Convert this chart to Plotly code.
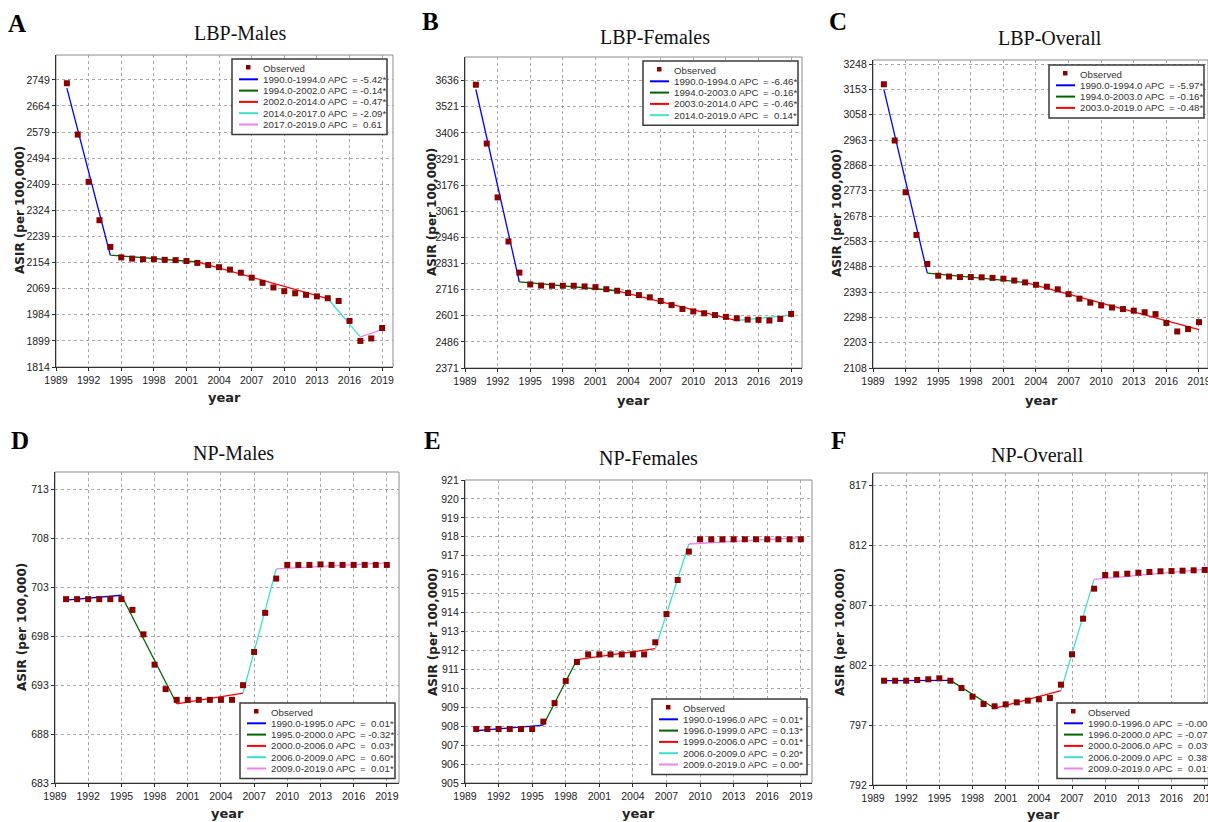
import plotly.graph_objects as go

W, H = 1208, 822

# ---------------- data ----------------
years = list(range(1990, 2020))
x_ticks = list(range(1989, 2020, 3))
seg_colors = ["#0000ff", "#006400", "#ff0000", "#40e0d0", "#ee82ee"]

# A: LBP-Males
lbp_m_obs = [2738, 2571, 2417, 2292, 2205, 2171, 2167, 2165, 2165, 2163,
             2162, 2159, 2153, 2146, 2139, 2131, 2121, 2105, 2088, 2073,
             2061, 2054, 2049, 2044, 2038, 2029, 1964, 1899, 1907, 1941]
lbp_m_jp = [1990, 1994, 2002, 2014, 2017, 2019]
lbp_m_fit = [2722, 2178, 2156, 2037, 1912, 1936]
lbp_m_seg = ["1990.0-1994.0 APC", "1994.0-2002.0 APC", "2002.0-2014.0 APC",
             "2014.0-2017.0 APC", "2017.0-2019.0 APC"]
lbp_m_apc = ["= -5.42*", "= -0.14*", "= -0.47*", "= -2.09*", "=  0.61"]
lbp_m_yticks = [1814, 1899, 1984, 2069, 2154, 2239, 2324, 2409, 2494, 2579, 2664, 2749]

# B: LBP-Females
lbp_f_obs = [3618, 3359, 3122, 2928, 2791, 2739, 2734, 2733, 2733, 2733,
             2730, 2727, 2718, 2711, 2701, 2692, 2682, 2666, 2648, 2631,
             2620, 2612, 2604, 2596, 2590, 2584, 2583, 2580, 2587, 2609]
lbp_f_jp = [1990, 1994, 2003, 2014, 2019]
lbp_f_fit = [3597, 2750, 2711, 2580, 2604]
lbp_f_seg = ["1990.0-1994.0 APC", "1994.0-2003.0 APC", "2003.0-2014.0 APC",
             "2014.0-2019.0 APC"]
lbp_f_apc = ["= -6.46*", "= -0.16*", "= -0.46*", "=  0.14*"]
lbp_f_yticks = [2371, 2486, 2601, 2716, 2831, 2946, 3061, 3176, 3291, 3406, 3521, 3636]

# C: LBP-Overall
lbp_o_obs = [3172, 2961, 2767, 2607, 2498, 2454, 2451, 2449, 2449, 2448,
             2446, 2443, 2436, 2429, 2420, 2413, 2403, 2385, 2368, 2353,
             2343, 2335, 2329, 2323, 2317, 2310, 2277, 2245, 2254, 2280]
lbp_o_jp = [1990, 1994, 2003, 2019]
lbp_o_fit = [3153, 2464, 2429, 2252]
lbp_o_seg = ["1990.0-1994.0 APC", "1994.0-2003.0 APC", "2003.0-2019.0 APC"]
lbp_o_apc = ["= -5.97*", "= -0.16*", "= -0.48*"]
lbp_o_yticks = [2108, 2203, 2298, 2393, 2488, 2583, 2678, 2773, 2868, 2963, 3058, 3153, 3248]

# D: NP-Males
np_m_obs = [701.8, 701.8, 701.8, 701.8, 701.8, 701.8, 700.7, 698.2, 695.1, 692.6,
            691.5, 691.5, 691.5, 691.5, 691.5, 691.5, 693.0, 696.4, 700.4, 703.9,
            705.3, 705.3, 705.3, 705.35, 705.3, 705.3, 705.3, 705.3, 705.3, 705.3]
np_m_jp = [1990, 1995, 2000, 2006, 2009, 2019]
np_m_fit = [701.7, 702.2, 691.1, 692.2, 704.9, 705.5]
np_m_seg = ["1990.0-1995.0 APC", "1995.0-2000.0 APC", "2000.0-2006.0 APC",
            "2006.0-2009.0 APC", "2009.0-2019.0 APC"]
np_m_apc = ["=  0.01*", "= -0.32*", "=  0.03*", "=  0.60*", "=  0.01*"]
np_m_yticks = [683, 688, 693, 698, 703, 708, 713]

# E: NP-Females
np_f_obs = [907.85, 907.85, 907.85, 907.85, 907.85, 907.85, 908.24, 909.22, 910.39, 911.39,
            911.79, 911.79, 911.79, 911.79, 911.79, 911.79, 912.43, 913.92, 915.72, 917.22,
            917.87, 917.87, 917.87, 917.87, 917.87, 917.87, 917.87, 917.87, 917.87, 917.87]
np_f_jp = [1990, 1996, 1999, 2006, 2009, 2019]
np_f_fit = [907.76, 908.06, 911.51, 912.09, 917.62, 917.96]
np_f_seg = ["1990.0-1996.0 APC", "1996.0-1999.0 APC", "1999.0-2006.0 APC",
            "2006.0-2009.0 APC", "2009.0-2019.0 APC"]
np_f_apc = ["= 0.01*", "= 0.13*", "= 0.01*", "= 0.20*", "= 0.00*"]
np_f_yticks = list(range(905, 922))

# F: NP-Overall
np_o_obs = [800.69, 800.69, 800.69, 800.75, 800.81, 800.89, 800.69, 800.08, 799.36, 798.75,
            798.56, 798.72, 798.89, 799.03, 799.14, 799.25, 800.36, 802.89, 805.86, 808.36,
            809.50, 809.56, 809.61, 809.69, 809.75, 809.81, 809.83, 809.86, 809.89, 809.92]
np_o_jp = [1990, 1996, 2000, 2006, 2009, 2019]
np_o_fit = [800.69, 800.72, 798.39, 799.86, 809.14, 809.97]
np_o_seg = ["1990.0-1996.0 APC", "1996.0-2000.0 APC", "2000.0-2006.0 APC",
            "2006.0-2009.0 APC", "2009.0-2019.0 APC"]
np_o_apc = ["= -0.00", "= -0.07*", "=  0.03*", "=  0.38*", "=  0.01*"]
np_o_yticks = [792, 797, 802, 807, 812, 817]

# ---------------- layout config ----------------
panels = [
    dict(letter="A", title="LBP-Males", obs=lbp_m_obs, jp=lbp_m_jp, fit=lbp_m_fit,
         seg=lbp_m_seg, apc=lbp_m_apc, yticks=lbp_m_yticks,
         xr=[1989, 2020], yr=[1814, 2830], box=(56, 393, 55, 367),
         leg=(232, 59), tpos=(240, 33), lpos=(17, 23), xt=(224, 398), yt=(20, 210)),
    dict(letter="B", title="LBP-Females", obs=lbp_f_obs, jp=lbp_f_jp, fit=lbp_f_fit,
         seg=lbp_f_seg, apc=lbp_f_apc, yticks=lbp_f_yticks,
         xr=[1989, 2020], yr=[2371, 3740], box=(465, 802, 57, 368),
         leg=(643, 61), tpos=(655, 37), lpos=(430, 21), xt=(633, 400), yt=(432, 212)),
    dict(letter="C", title="LBP-Overall", obs=lbp_o_obs, jp=lbp_o_jp, fit=lbp_o_fit,
         seg=lbp_o_seg, apc=lbp_o_apc, yticks=lbp_o_yticks,
         xr=[1989, 2019.83], yr=[2108, 3263], box=(873, 1208, 60, 368),
         leg=(1049, 65), tpos=(1050, 38), lpos=(838, 21), xt=(1041, 400), yt=(837, 213)),
    dict(letter="D", title="NP-Males", obs=np_m_obs, jp=np_m_jp, fit=np_m_fit,
         seg=np_m_seg, apc=np_m_apc, yticks=np_m_yticks,
         xr=[1989, 2020.1], yr=[683, 714.8], box=(55, 399, 472, 783),
         leg=(240, 703), tpos=(233, 453), lpos=(20, 440), xt=(227, 813), yt=(22, 627)),
    dict(letter="E", title="NP-Females", obs=np_f_obs, jp=np_f_jp, fit=np_f_fit,
         seg=np_f_seg, apc=np_f_apc, yticks=np_f_yticks,
         xr=[1989, 2020], yr=[905, 921], box=(465, 812, 480, 783),
         leg=(652, 699), tpos=(648, 458), lpos=(432, 440), xt=(638, 813), yt=(433, 632)),
    dict(letter="F", title="NP-Overall", obs=np_o_obs, jp=np_o_jp, fit=np_o_fit,
         seg=np_o_seg, apc=np_o_apc, yticks=np_o_yticks,
         xr=[1989, 2019.3], yr=[792, 818], box=(873, 1208, 473, 785),
         leg=(1057, 703), tpos=(1037, 455), lpos=(838, 441), xt=(1043, 814), yt=(840, 632)),
]

TICK_FONT = dict(family="Liberation Sans, Arial, sans-serif", size=10.5, color="#222222")
LEG_FONT = dict(family="Liberation Sans, Arial, sans-serif", size=9.7, color="#333333")


def px(v):
    return v / W


def py(v):
    return 1 - v / H


fig = go.Figure()
shapes = []
annotations = []
layout_axes = {}

for i, p in enumerate(panels):
    n = i + 1
    xa = "x" if n == 1 else f"x{n}"
    ya = "y" if n == 1 else f"y{n}"
    x0, x1, y0, y1 = p["box"]

    # fitted segments
    for s in range(len(p["jp"]) - 1):
        fig.add_trace(go.Scatter(
            x=[p["jp"][s], p["jp"][s + 1]], y=[p["fit"][s], p["fit"][s + 1]],
            mode="lines", line=dict(color=seg_colors[s], width=1.3),
            xaxis=xa, yaxis=ya, showlegend=False, hoverinfo="skip"))
    # observed
    fig.add_trace(go.Scatter(
        x=years, y=p["obs"], mode="markers",
        marker=dict(symbol="square", size=6, color="#8b0000", line=dict(width=0)),
        xaxis=xa, yaxis=ya, showlegend=False, name="Observed"))

    axis_common = dict(showgrid=True, gridcolor="#a8a8a8", griddash="dot", gridwidth=1,
                       zeroline=False, showline=True, linecolor="#303030", linewidth=1.2,
                       mirror=False, ticks="outside", ticklen=3, tickcolor="#303030",
                       tickfont=TICK_FONT, automargin=False, ticklabeloverflow="allow")
    layout_axes["xaxis" if n == 1 else f"xaxis{n}"] = dict(
        axis_common, domain=[px(x0), min(px(x1), 1.0)], range=p["xr"],
        tickmode="array", tickvals=x_ticks, ticktext=[str(t) for t in x_ticks],
        anchor=ya)
    layout_axes["yaxis" if n == 1 else f"yaxis{n}"] = dict(
        axis_common, domain=[py(y1), py(y0)], range=p["yr"],
        tickmode="array", tickvals=p["yticks"], ticktext=[str(t) for t in p["yticks"]],
        anchor=xa)

    # light frame on top / right
    shapes.append(dict(type="rect", xref=f"{xa} domain", yref=f"{ya} domain",
                       x0=0, x1=1, y0=0, y1=1, line=dict(color="#8c8c8c", width=1),
                       layer="below"))

    # texts
    annotations.append(dict(text=p["title"], x=px(p["tpos"][0]), y=py(p["tpos"][1]),
                            xref="paper", yref="paper", showarrow=False,
                            xanchor="center", yanchor="middle",
                            font=dict(family="Liberation Serif, Times New Roman, serif",
                                      size=20, color="#111111")))
    annotations.append(dict(text=f"<b>{p['letter']}</b>", x=px(p["lpos"][0]), y=py(p["lpos"][1]),
                            xref="paper", yref="paper", showarrow=False,
                            xanchor="center", yanchor="middle",
                            font=dict(family="Liberation Serif, Times New Roman, serif",
                                      size=25, color="#000000")))
    annotations.append(dict(text="<b>year</b>", x=px(p["xt"][0]), y=py(p["xt"][1]),
                            xref="paper", yref="paper", showarrow=False,
                            xanchor="center", yanchor="middle",
                            font=dict(family="DejaVu Sans, Verdana, sans-serif",
                                      size=13, color="#222222")))
    annotations.append(dict(text="<b>ASIR (per 100,000)</b>", x=px(p["yt"][0]), y=py(p["yt"][1]),
                            xref="paper", yref="paper", showarrow=False, textangle=-90,
                            xanchor="center", yanchor="middle",
                            font=dict(family="DejaVu Sans, Verdana, sans-serif",
                                      size=12, color="#222222")))

    # custom compact legend box
    lx, ly = p["leg"]
    rows = len(p["seg"]) + 1
    step = 11.3
    bh = 9 + (rows - 1) * step + 10
    bw = 155
    shapes.append(dict(type="rect", xref="paper", yref="paper",
                       x0=px(lx), x1=px(lx + bw), y0=py(ly + bh), y1=py(ly),
                       line=dict(color="#3a3a3a", width=1.5), fillcolor="white", layer="above"))
    oy = ly + 9
    shapes.append(dict(type="rect", xref="paper", yref="paper",
                       x0=px(lx + 14), x1=px(lx + 18.5), y0=py(oy + 1.5), y1=py(oy - 3),
                       line=dict(width=0), fillcolor="#8b0000", layer="above"))
    annotations.append(dict(text="Observed", x=px(lx + 29), y=py(oy), xref="paper", yref="paper",
                            showarrow=False, xanchor="left", yanchor="middle", font=LEG_FONT))
    for s, (lab, apc) in enumerate(zip(p["seg"], p["apc"])):
        ry = ly + 9 + (s + 1) * step
        shapes.append(dict(type="line", xref="paper", yref="paper",
                           x0=px(lx + 7), x1=px(lx + 26), y0=py(ry), y1=py(ry),
                           line=dict(color=seg_colors[s], width=2), layer="above"))
        annotations.append(dict(text=lab, x=px(lx + 29), y=py(ry), xref="paper", yref="paper",
                                showarrow=False, xanchor="left", yanchor="middle", font=LEG_FONT))
        annotations.append(dict(text=apc.replace(" ", "&nbsp;"), x=px(lx + 118), y=py(ry),
                                xref="paper", yref="paper", showarrow=False,
                                xanchor="left", yanchor="middle", font=LEG_FONT))

fig.update_layout(
    width=W, height=H, margin=dict(l=0, r=0, t=0, b=0, pad=0), autosize=False,
    paper_bgcolor="white", plot_bgcolor="white", showlegend=False,
    shapes=shapes, annotations=annotations, **layout_axes)

fig.write_html("out.html",
               config={"displayModeBar": False},
               post_script="document.body.style.margin='0';"
                           "document.body.style.padding='0';"
                           "document.body.style.overflow='hidden';")
